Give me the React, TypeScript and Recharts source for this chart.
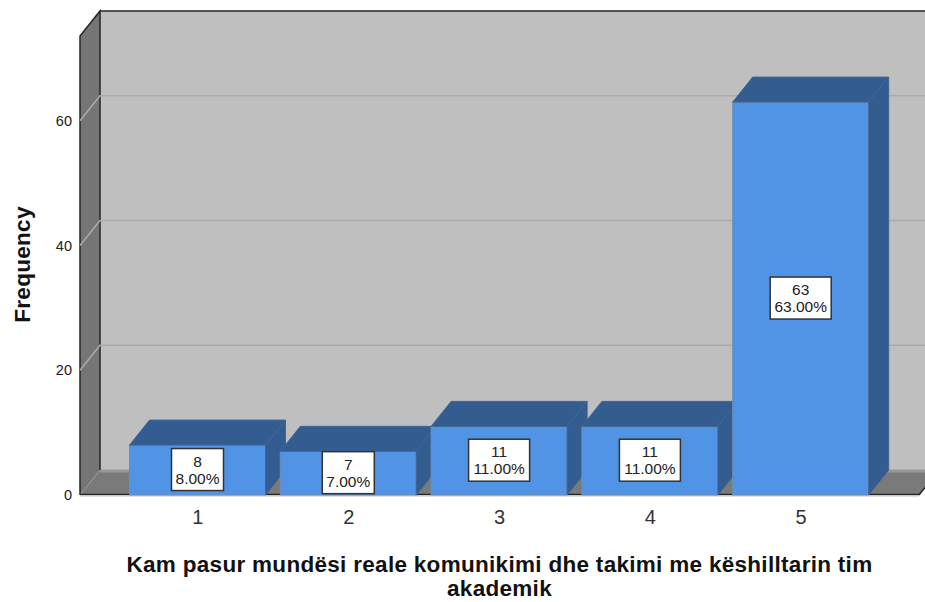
import React from 'react';
import { BarChart, Bar, XAxis, YAxis, ReferenceArea, LabelList, Label } from 'recharts';

const categories = ['1', '2', '3', '4', '5'];
const frequencies = [8, 7, 11, 11, 63];
const percents = ['8.00%', '7.00%', '11.00%', '11.00%', '63.00%'];
const yTicks = [0, 20, 40, 60];
const gridValues = [20, 40, 60];
const yMax = 73.6;
const xTitleLines = ['Kam pasur mundësi reale komunikimi dhe takimi me këshilltarin tim', 'akademik'];

const chartData = categories.map((c, i) => ({ category: c, count: frequencies[i] }));

const DX = 20;
const DY = 25;
const PAD = 42.5;
const FONT = '"Liberation Sans", Arial, sans-serif';
const FRAME = '#262626';

// back wall, left wall and floor of the 3D box
const Walls = ({ x: innerX, y, width: innerW, height }: any) => {
  // the area comes inset by the x axis padding, the box spans the whole plot
  const x = innerX - PAD;
  const right = innerX + innerW + PAD;
  const bottom = y + height;
  return (
    <g>
      <polygon points={`${x + DX},${y - DY} 940,${y - DY} 940,${bottom - DY} ${x + DX},${bottom - DY}`} fill="#bfbfbf" />
      <polygon points={`${x},${y} ${x + DX},${y - DY} ${x + DX},${bottom - DY} ${x},${bottom}`} fill="#757575" />
      <polygon points={`${x},${bottom} ${x + DX},${bottom - DY} 940,${bottom - DY} ${right + DX},${bottom - DY} ${right},${bottom}`} fill="#7a7a7a" />
      <line x1={x + DX} y1={bottom - DY + 1} x2={940} y2={bottom - DY + 1} stroke="#989898" strokeWidth={3} />
      <polyline points={`${x},${bottom} ${x},${y} ${x + DX},${y - DY} ${x + DX},${bottom - DY}`} fill="none" stroke={FRAME} strokeWidth={1.5} />
      <line x1={x + DX} y1={y - DY} x2={940} y2={y - DY} stroke={FRAME} strokeWidth={1.5} />
      <line x1={x} y1={bottom} x2={x + DX} y2={bottom - DY} stroke="#959595" strokeWidth={1} />
      <line x1={x} y1={bottom - 0.5} x2={right} y2={bottom - 0.5} stroke={FRAME} strokeWidth={1.5} />
      <line x1={right} y1={bottom} x2={right + DX} y2={bottom - DY} stroke={FRAME} strokeWidth={1.5} />
      <line x1={x} y1={bottom + 1} x2={right} y2={bottom + 1} stroke="#c4c4c4" strokeWidth={1} />
    </g>
  );
};

// reference areas stay behind the bars, reference lines do not
const WallGridLine = ({ x, y }: any) => (
  <polyline
    points={`${x - PAD},${y} ${x - PAD + DX},${y - DY} 940,${y - DY}`}
    fill="none"
    stroke="#ababab"
    strokeWidth={1.5}
  />
);

const Bar3D = ({ x, y, width, height }: any) => {
  const right = x + width;
  const bottom = y + height;
  return (
    <g>
      <rect x={x} y={y} width={width} height={height} fill="#5193e4" stroke="#6f8fb5" strokeWidth={1} />
      <polygon points={`${x},${y} ${x + DX},${y - DY} ${right + DX},${y - DY} ${right},${y}`} fill="#335c90" stroke="#3f6594" strokeWidth={1} />
      <polygon points={`${right},${y} ${right + DX},${y - DY} ${right + DX},${bottom - DY} ${right},${bottom}`} fill="#335c90" stroke="#3f6594" strokeWidth={1} />
    </g>
  );
};

const ValueBox = ({ x, y, width, height, value, index }: any) => {
  const cx = x + width / 2;
  const cy = y + height / 2 - 0.5;
  const boxW = String(value).length > 1 ? 61 : 52;
  return (
    <g fontFamily={FONT} fontSize={15.5} fill="#222" textAnchor="middle">
      <rect x={cx - boxW / 2} y={cy - 21} width={boxW} height={42} fill="#fff" stroke="#333" strokeWidth={1.5} />
      <text x={cx} y={cy - 3}>{value}</text>
      <text x={cx} y={cy + 14}>{percents[index]}</text>
    </g>
  );
};

const XTitle = ({ viewBox }: any) => {
  const cx = viewBox.x + viewBox.width / 2;
  return (
    <text fontFamily={FONT} fontWeight={700} fontSize={22.5} letterSpacing={0.3} fill="#111" textAnchor="middle">
      {xTitleLines.map((line, i) => (
        <tspan key={line} x={cx} y={572 + i * 24}>{line}</tspan>
      ))}
    </text>
  );
};

const YTitle = ({ viewBox }: any) => {
  const cy = viewBox.y + viewBox.height / 2;
  return (
    <text
      transform={`translate(30, ${cy - 1}) rotate(-90)`}
      fontFamily={FONT}
      fontWeight={700}
      fontSize={22.5}
      letterSpacing={0.3}
      fill="#111"
      textAnchor="middle"
    >
      Frequency
    </text>
  );
};

export default function App() {
  return (
    <div style={{ position: 'absolute', left: 0, top: 0, width: 925, height: 602, background: '#fff', overflow: 'hidden' }}>
      <BarChart
        width={925}
        height={602}
        data={chartData}
        margin={{ top: 36, right: 6, bottom: 0, left: 0 }}
        barSize={136}
        style={{ overflow: 'visible' }}
      >
        <XAxis
          dataKey="category"
          height={107}
          padding={{ left: PAD, right: PAD }}
          axisLine={false}
          tickLine={false}
          tickSize={0}
          tickMargin={15}
          tick={{ fontFamily: FONT, fontSize: 20, fill: '#333' }}
        >
          <Label content={<XTitle />} />
        </XAxis>
        <YAxis
          width={80}
          domain={[0, yMax]}
          ticks={yTicks}
          interval={0}
          axisLine={false}
          tickLine={false}
          tickSize={0}
          tickMargin={8}
          tick={{ fontFamily: FONT, fontSize: 14.5, fill: '#222' }}
        >
          <Label content={<YTitle />} />
        </YAxis>
        <ReferenceArea y1={0} y2={yMax} ifOverflow="visible" shape={<Walls />} />
        {gridValues.map(v => (
          <ReferenceArea key={v} y1={v} y2={v} ifOverflow="visible" shape={<WallGridLine />} />
        ))}
        <Bar dataKey="count" isAnimationActive={false} shape={<Bar3D />}>
          <LabelList dataKey="count" content={<ValueBox />} />
        </Bar>
      </BarChart>
    </div>
  );
}
